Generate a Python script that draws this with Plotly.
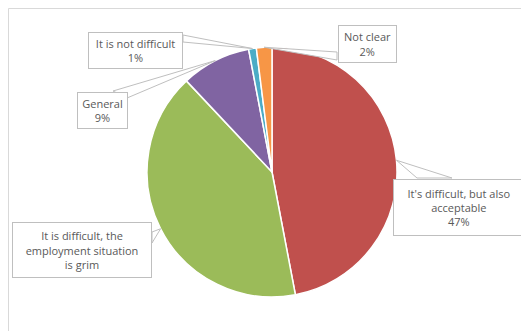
import math
import plotly.graph_objects as go

labels = ["It's difficult, but also acceptable",
          "It is difficult, the employment situation is grim",
          "General", "It is not difficult", "Not clear"]
values = [47, 41, 9, 1, 2]
label_texts = ["It's difficult, but also<br>acceptable<br>47%",
               "It is difficult, the<br>employment situation<br>is grim",
               "General<br>9%", "It is not difficult<br>1%", "Not clear<br>2%"]
colors = ["#C0504D", "#9BBB59", "#8064A2", "#4BACC6", "#F79646"]

W, H = 529, 331
OFF = 8  # page body margin offset
CX, CY, R = 272, 172, 125

# label boxes (center x, center y, width, height) in page pixels
boxes = [(459, 207, 132, 57), (82, 250, 140, 56), (102, 110, 51, 37),
         (135, 50, 95, 37), (367, 44, 59, 38)]
# pointer base points on box edges (page pixels)
bases = [((417, 178), (452, 178)), ((152, 232), (152, 243)),
         ((113, 91), (127, 98)), ((183, 35), (183, 42)),
         ((337, 52), (337, 60))]


def px(x, y):
    return (x - OFF) / W, 1 - (y - OFF) / H


fig = go.Figure(go.Pie(
    labels=labels, values=values, sort=False, direction="clockwise",
    rotation=0, marker=dict(colors=colors, line=dict(color="white", width=1.5)),
    textinfo="none", hoverinfo="label+percent",
    domain=dict(x=[(CX - R - OFF) / W, (CX + R - OFF) / W],
                y=[1 - (CY + R - OFF) / H, 1 - (CY - R - OFF) / H]),
))

shapes = [dict(type="rect", xref="paper", yref="paper",
               x0=0.5 / W, y0=1 - 0.5 / H, x1=1.05, y1=-0.05,
               line=dict(color="#D9D9D9", width=1), fillcolor="rgba(0,0,0,0)",
               layer="below")]
annotations = []
total = sum(values)
cum = 0
for i, v in enumerate(values):
    mid = (cum + v / 2) / total * 2 * math.pi
    cum += v
    tx = CX + R * math.sin(mid)
    ty = CY - R * math.cos(mid)
    (b1x, b1y), (b2x, b2y) = bases[i]
    path = "M {} {} L {} {} L {} {} Z".format(
        *px(b1x, b1y), *px(tx, ty), *px(b2x, b2y))
    shapes.append(dict(type="path", xref="paper", yref="paper", path=path,
                       line=dict(color="#BFBFBF", width=1), fillcolor="white",
                       layer="above"))
    bx, by, bw, bh = boxes[i]
    x, y = px(bx, by)
    annotations.append(dict(
        x=x, y=y, xref="paper", yref="paper", text=label_texts[i],
        showarrow=False, xanchor="center", yanchor="middle",
        width=bw - 2, height=bh - 2, borderpad=0, borderwidth=1,
        bordercolor="#BFBFBF", bgcolor="white", align="center", valign="middle",
        font=dict(family="Open Sans", size=11, color="#595959")))

fig.update_layout(
    width=W, height=H, margin=dict(l=0, r=0, t=0, b=0),
    paper_bgcolor="white", plot_bgcolor="white", showlegend=False,
    shapes=shapes, annotations=annotations,
)
fig.write_html("out.html")
